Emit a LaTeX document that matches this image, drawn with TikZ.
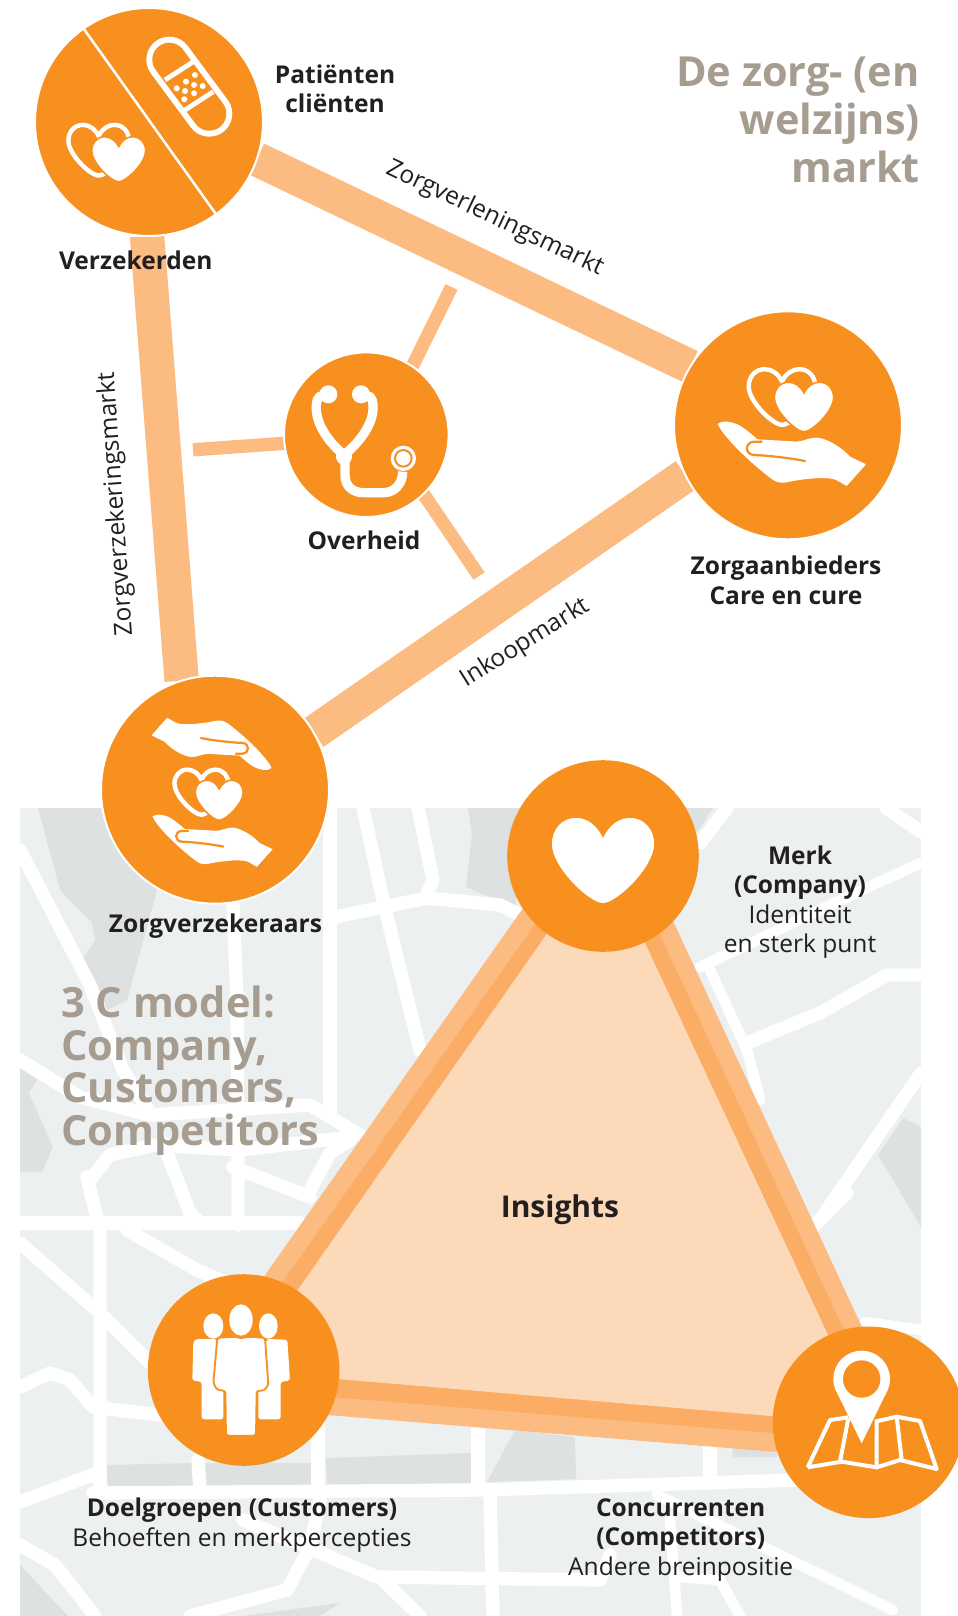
\documentclass[tikz,border=0pt]{standalone}
\usepackage{fontspec}
\setmainfont{Open Sans}
\usetikzlibrary{backgrounds}
\definecolor{zorange}{HTML}{F7901E}
\definecolor{zbar}{HTML}{FCBB80}
\definecolor{zmid}{HTML}{FBAD66}
\definecolor{zinner}{HTML}{FCD9B8}
\definecolor{zmap}{HTML}{ECF0F1}
\definecolor{zblock}{HTML}{DDE1E2}
\definecolor{ztitle}{HTML}{A79C90}
\definecolor{ztext}{HTML}{231F20}
\tikzset{
  x=.75pt,y=-.75pt,
  hub/.style={circle,fill=zorange,inner sep=0pt,outer sep=0pt,minimum size=#1*.75pt},
  halo/.style={draw=white,line width=1.5pt},
  wideBar/.style={draw=zbar,line width=25.8pt},
  thinBar/.style={draw=zbar,line width=10pt},
  roadline/.style={draw=white,line width=10pt,line cap=round,line join=round},
  thinroad/.style={draw=white,line width=8pt,line cap=round,line join=round},
  blockfill/.style={fill=zblock},
  lab/.style={text=ztext,font=\fontsize{18.4}{22.1}\selectfont,align=center,anchor=base,inner sep=0pt},
  slab/.style={text=ztext,font=\fontsize{18.4}{22.1}\selectfont,inner sep=0pt},
  ttl/.style={text=ztitle,font=\bfseries\fontsize{31.1}{36}\selectfont,align=right,anchor=base east,inner sep=0pt},
  ttlb/.style={text=ztitle,font=\bfseries\fontsize{31.2}{32}\selectfont,align=left,anchor=base west,inner sep=0pt},
  heartfill/.pic={
    \path[fill=white,draw=zorange,line width=1.2pt] (0,-24) .. controls (6,-36) and (16,-43) .. (27,-43) .. controls (42,-43) and (52,-31) .. (52,-16) .. controls (52,8) and (14,44) .. (0,44) .. controls (-14,44) and (-52,8) .. (-52,-16) .. controls (-52,-31) and (-42,-43) .. (-27,-43) .. controls (-16,-43) and (-6,-36) .. (0,-24) -- cycle;
  },
  twohearts/.pic={
    \begin{scope}[shift={(-11,-5)},scale=.64]
    \draw[white,line width=3.3pt] (0,-24) .. controls (6,-36) and (16,-43) .. (27,-43) .. controls (42,-43) and (52,-31) .. (52,-16) .. controls (52,8) and (14,44) .. (0,44) .. controls (-14,44) and (-52,8) .. (-52,-16) .. controls (-52,-31) and (-42,-43) .. (-27,-43) .. controls (-16,-43) and (-6,-36) .. (0,-24) -- cycle;
    \end{scope}
    \begin{scope}[shift={(11,5)},scale=.57]
    \path[fill=white,draw=zorange,line width=1.2pt] (0,-24) .. controls (6,-36) and (16,-43) .. (27,-43) .. controls (42,-43) and (52,-31) .. (52,-16) .. controls (52,8) and (14,44) .. (0,44) .. controls (-14,44) and (-52,8) .. (-52,-16) .. controls (-52,-31) and (-42,-43) .. (-27,-43) .. controls (-16,-43) and (-6,-36) .. (0,-24) -- cycle;
    \end{scope}
  },
  openhand/.pic={
    \fill[white] (-74,-29.3) .. controls (-68,-34) and (-60,-31) .. (-54.3,-29) .. controls (-48,-26) and (-40,-19) .. (-34.3,-14) -- (5,-11.7) .. controls (12,-12) and (18,-16) .. (25,-15.7) .. controls (35,-15) and (50,-6) .. (58.3,3.3) -- (74.3,11) -- (55,32.7) -- (45,27) .. controls (38,23) and (15,25) .. (-1.7,28.3) .. controls (-8,30) and (-13,30) .. (-18,27) .. controls (-30,19) and (-66,-12) .. (-74,-29.3) -- cycle;
    \draw[zorange,line width=1.7pt,line cap=round] (13.3,7.7) .. controls (0,5) and (-25,2) .. (-38,1.7) .. controls (-47,1) and (-47,-11) .. (-38,-11.5) -- (-30,-11.7);
  }
}
\begin{document}
\begin{tikzpicture}
\useasboundingbox (0,0) rectangle (957,1616);
% ---- hubs
\node[hub=228,halo] (tl) at (149,122) {};
\node[hub=228,halo] (za) at (788,425.3) {};
\node[hub=228,halo] (zv) at (215,789.7) {};
\node[hub=164.6,halo] (ov) at (366.3,434.7) {};
\node[hub=191.6] (merk) at (603,856) {};
\node[hub=191.6] (doel) at (243.6,1370) {};
\node[hub=191.6] (conc) at (868.5,1422.3) {};
\coordinate (spokeA) at (451.5,287);
\coordinate (spokeB) at (193,449.8);
\coordinate (spokeC) at (479,576);
\begin{pgfonlayer}{background}
  \fill[zmap] (20,808) rectangle (921,1616);
  \begin{scope}
    \clip (20,808) rectangle (921,1616);
    \fill[blockfill] (38,808) -- (60,890) -- (92,923) -- (95,940) -- (82,960) -- (102,1013) -- (127,1000) -- (157,890) -- (157,808) -- cycle;
    \fill[blockfill] (468,808) -- (472,833) -- (466,887) -- (515,908) -- (530,808) -- cycle;
    \fill[blockfill] (697,832) -- (713,808) -- (680,808) -- cycle;
    \fill[blockfill] (20,1068) -- (37,1080) -- (29,1093) -- (53,1147) -- (42,1172) -- (20,1172) -- cycle;
    \fill[blockfill] (878,1155) -- (903,1118) -- (921,1127) -- (921,1227) -- cycle;
    \fill[blockfill] (107,1465) -- (192,1463) -- (193,1487) -- (108,1490) -- cycle;
    \fill[blockfill] (205,1463) -- (312,1463) -- (312,1486) -- (207,1487) -- cycle;
    \fill[blockfill] (326,1458) -- (472,1453) -- (472,1483) -- (327,1485) -- cycle;
    \fill[blockfill] (515,1430) -- (575,1437) -- (576,1479) -- (487,1482) -- cycle;
    \fill[blockfill] (732,1443) -- (777,1453) -- (777,1457) -- (733,1457) -- cycle;
    \fill[blockfill] (20,1565) -- (68,1616) -- (20,1616) -- cycle;
    \fill[blockfill] (243,1616) -- (340,1603) -- (320,1616) -- cycle;
    % roads
    \draw[roadline] (20,850) -- (90,985) -- (123,1070) -- (150,1113);
    \draw[roadline] (20,1060) -- (80,1097) -- (150,1115) -- (310,1105) -- (360,1135);
    \draw[roadline] (350,1137) -- (240,1150) -- (155,1145) -- (110,1155) -- (90,1180);
    \draw[roadline] (163,1143) -- (190,1213) -- (200,1223);
    \draw[roadline] (233,1167) -- (310,1197);
    \draw[roadline] (310,1190) -- (330,1153) -- (350,1140);
    \draw[roadline] (20,1223) -- (300,1223);
    \draw[roadline] (233,905) -- (237,1000) -- (238,1165) -- (238,1225);
    \draw[roadline] (330,808) -- (330,1115);
    \draw[roadline] (363,808) -- (383,900) -- (420,1050);
    \draw[roadline] (418,808) -- (433,880) -- (427,893);
    \draw[roadline] (330,918) -- (427,898) -- (500,905) -- (530,920);
    \draw[roadline] (87,1177) -- (100,1230) -- (100,1493);
    \draw[roadline] (20,1243) -- (100,1313) -- (150,1363);
    \draw[roadline] (127,1230) -- (197,1270) -- (225,1282);
    \draw[roadline] (20,1387) -- (50,1373) -- (70,1380) -- (93,1407) -- (160,1415);
    \draw[roadline] (20,1502) -- (100,1472);
    \draw[roadline] (93,1493) -- (480,1490) -- (797,1480);
    \draw[roadline] (198,1460) -- (200,1490);
    \draw[roadline] (318,1420) -- (318,1490);
    \draw[roadline] (478,1430) -- (478,1490);
    \draw[roadline] (710,1445) -- (710,1480);
    \draw[roadline] (490,1493) -- (493,1616);
    \draw[roadline] (20,1545) -- (55,1565) -- (95,1616);
    \draw[roadline] (190,1616) -- (287,1590) -- (310,1547) -- (320,1500);
    \draw[roadline] (243,1520) -- (377,1577) -- (600,1580) -- (610,1555);
    \draw[roadline] (383,1580) -- (420,1616);
    \draw[thinroad] (657,1495) -- (893,1610);
    \draw[thinroad] (670,1520) -- (677,1616);
    \draw[thinroad] (680,1577) -- (720,1580) -- (740,1616);
    \draw[roadline] (813,1227) -- (847,1193);
    \draw[roadline] (820,1220) -- (921,1073);
    \draw[thinroad] (700,967) -- (877,883) -- (921,863);
    \draw[thinroad] (710,970) -- (747,1050) -- (760,1100);
    \draw[roadline] (747,1043) -- (820,1013) -- (887,975) -- (921,975);
    \draw[roadline] (700,843) -- (727,808);
    \draw[roadline] (886,808) -- (921,832);
    \draw[thinroad] (865,1322) -- (921,1330);
  \end{scope}
  % triangle bands
  \fill[zbar] (intersection of 490,955--265,1275 and 862,1327--674,923) -- (intersection of 862,1327--674,923 and 330,1415--777,1452) -- (intersection of 330,1415--777,1452 and 490,955--265,1275) -- cycle;
  \fill[zmid] (intersection of 490,988--284,1280 and 843,1328--660,935) -- (intersection of 843,1328--660,935 and 333,1397--773,1433) -- (intersection of 333,1397--773,1433 and 490,988--284,1280) -- cycle;
  \fill[zinner] (intersection of 490,1015--299,1288 and 828,1335--645,943) -- (intersection of 828,1335--645,943 and 339,1379--772,1416) -- (intersection of 339,1379--772,1416 and 490,1015--299,1288) -- cycle;
  % connectors
  \draw[wideBar] (tl.-19.5) -- (za.149.5);
  \draw[wideBar] (tl.-91) -- (zv.107.2);
  \draw[wideBar] (zv.30.4) -- (za.206.7);
  \draw[thinBar] (ov.56.5) -- (spokeA);
  \draw[thinBar] (ov.186) -- (spokeB);
  \draw[thinBar] (ov.-46.4) -- (spokeC);
\end{pgfonlayer}
% ---- icons
% tl divider
\draw[white,line width=1.9pt] (tl.125.8) -- (tl.-54);
% bandage
\draw[white,line width=34.5pt,line cap=round] (169.3,59.7) -- (209.3,113.7);
\draw[zorange,line width=25.5pt,line cap=round] (169.3,59.7) -- (209.3,113.7);
\draw[white,line width=3.6pt] (165,80) -- (193.3,61.7);
\draw[white,line width=3.6pt] (185,110) -- (213.3,91.7);
\foreach \a/\b in {186/81.7,195/75,176.7/88.3,194/85,202.7/86,185/91,194/93.3,184.3/99.3}{
  \fill[white] (\a,\b) circle[radius=3];
}
\pic[scale=.91] at (108.7,154.5) {twohearts};
\pic at (793,401.7) {twohearts};
\pic at (791.7,453.3) {openhand};
\pic[scale=.81] at (210.3,796) {twohearts};
\pic[scale=.81] at (212.4,840.3) {openhand};
\pic[scale=.81,rotate=180] at (211.7,744.3) {openhand};
\pic at (603,860) {heartfill};
% stethoscope
\begin{scope}[shift={(270,340)},x=.25pt,y=-.25pt]
  \draw[white,line width=7pt,line cap=round] (160,165) .. controls (140,170) and (138,185) .. (139,210) .. controls (142,260) and (180,310) .. (222,345) .. controls (265,310) and (305,260) .. (309,210) .. controls (310,185) and (308,170) .. (288,165);
  \draw[white,line width=7pt] (225,345) -- (225,405) .. controls (225,440) and (250,458) .. (280,458) -- (340,458) .. controls (375,458) and (398,430) .. (398,395);
  \fill[white] (222,350) circle[radius=24];
  \fill[white] (175,163) circle[radius=27];
  \fill[white] (273,163) circle[radius=27];
  \fill[white] (400,355) circle[radius=38];
  \draw[zorange,line width=1.5pt] (400,355) circle[radius=25];
\end{scope}
% map pin
\begin{scope}[shift={(760,1310)},x=.25pt,y=-.25pt]
  \draw[white,line width=3pt,line join=round] (143,472) -- (210,330) -- (265,322) (345,335) -- (410,320) -- (480,333) -- (530,477) -- (420,450) -- (350,472) -- (245,455) -- (143,472);
  \draw[white,line width=3pt] (265,325) -- (240,455) (350,335) -- (350,472) (410,320) -- (425,450);
  \fill[white] (305,207) circle[radius=85];
  \fill[white] (232,250) -- (378,250) -- (305,400) -- cycle;
  \fill[zorange] (305,207) circle[radius=56];
\end{scope}
% people
\begin{scope}[shift={(140,1270)},x=.25pt,y=-.25pt]
  \fill[white] (303,150) ellipse[x radius=35,y radius=47];
  \fill[white] (220,168) ellipse[x radius=30,y radius=38];
  \fill[white] (385,168) ellipse[x radius=28,y radius=38];
  \fill[white,rounded corners=2pt] (168,207) -- (230,207) -- (250,365) -- (250,448) -- (185,448) -- (185,335) -- (157,332) -- (160,215) -- cycle;
  \fill[white,rounded corners=2pt] (380,207) -- (442,209) -- (450,332) -- (422,335) -- (422,448) -- (355,448) -- (355,365) -- cycle;
  \path[fill=white,draw=zorange,line width=1.4pt,rounded corners=2pt] (232,203) -- (290,200) -- (303,206) -- (318,200) -- (375,203) -- (385,345) -- (372,362) -- (350,362) -- (348,497) -- (258,497) -- (256,362) -- (232,360) -- (220,340) -- cycle;
\end{scope}
% ---- labels
\node[lab] (patienten) at (335,113) {\textbf{Patiënten}\\\textbf{cliënten}};
\node[lab] (verzekerden) at (135.8,269.7) {\textbf{Verzekerden}};
\node[ttl] (title) at (920,182.4) {De zorg- (en\\welzijns)\\markt};
\node[slab,rotate=-25.5] (m1) at (494.7,218.5) {Zorgverleningsmarkt};
\node[slab,rotate=94] (m2) at (116.5,504) {Zorgverzekeringsmarkt};
\node[slab,rotate=32] (m3) at (525.6,643) {Inkoopmarkt};
\node[lab] (overheid) at (364,549) {\textbf{Overheid}};
\node[lab] (zorga) at (786,604) {\textbf{Zorgaanbieders}\\\textbf{Care en cure}};
\node[lab] (zorgv) at (215.5,932) {\textbf{Zorgverzekeraars}};
\node[lab] (merklab) at (800,952.5) {\textbf{Merk}\\\textbf{(Company)}\\Identiteit\\en sterk punt};
\node[ttlb] (model) at (61,1145.5) {3 C model:\\Company,\\Customers,\\Competitors};
\node[lab,font=\bfseries\fontsize{22.5}{26}\selectfont] (insights) at (560,1217) {Insights};
\node[lab] (doellab) at (242,1546) {\textbf{Doelgroepen (Customers)}\\Behoeften en merkpercepties};
\node[lab] (conclab) at (680.7,1575) {\textbf{Concurrenten}\\\textbf{(Competitors)}\\Andere breinpositie};
\end{tikzpicture}
\end{document}
